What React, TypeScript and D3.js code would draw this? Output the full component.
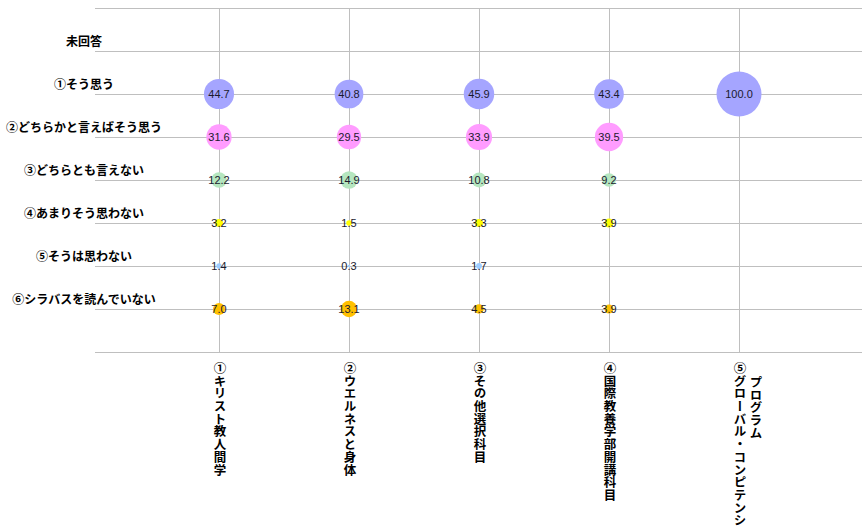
import * as d3 from "d3";

const W = 862;
const H = 527;

// rows (top -> bottom), with the empty "未回答" row first
const responses = [
  "未回答",
  "①そう思う",
  "②どちらかと言えばそう思う",
  "③どちらとも言えない",
  "④あまりそう思わない",
  "⑤そうは思わない",
  "⑥シラバスを読んでいない",
];

// columns; a label can wrap onto a second vertical line
const courses = [
  ["①キリスト教人間学"],
  ["②ウエルネスと身体"],
  ["③その他選択科目"],
  ["④国際教養学部開講科目"],
  ["⑤グローバル・コンピテンシー・", "プログラム"],
];

// percentages per response row, one value per course (null = no bubble)
const soOmou = [44.7, 40.8, 45.9, 43.4, 100.0];
const dochiraka = [31.6, 29.5, 33.9, 39.5, null];
const dochiramo = [12.2, 14.9, 10.8, 9.2, null];
const amari = [3.2, 1.5, 3.3, 3.9, null];
const omowanai = [1.4, 0.3, 1.7, null, null];
const yondeinai = [7.0, 13.1, 4.5, 3.9, null];

const series = [
  { row: 1, values: soOmou, color: "#a5a5ff" },
  { row: 2, values: dochiraka, color: "#ff9cff" },
  { row: 3, values: dochiramo, color: "#b5e6bf" },
  { row: 4, values: amari, color: "#ffff00" },
  { row: 5, values: omowanai, color: "#9fcdff" },
  { row: 6, values: yondeinai, color: "#ffc000" },
];

const PLOT_LEFT = 95;
const PLOT_TOP = 8;
const PLOT_BOTTOM = 352;

const x = d3.scaleLinear().domain([0, 6]).range([89, 869]);
const y = d3.scaleLinear().domain([8, 0]).range([PLOT_TOP, PLOT_BOTTOM]);
const r = d3.scaleSqrt().domain([0, 100]).range([0, 22.5]);

const jp = "'Noto Sans CJK JP', 'Noto Sans', sans-serif";
const num = "'Liberation Sans', Arial, sans-serif";

export default function App() {
  const gridY = d3.range(0, 9);
  return (
    <svg
      width={W}
      height={H}
      viewBox={`0 0 ${W} ${H}`}
      style={{ position: "absolute", left: 0, top: 0, background: "#fff" }}
    >
      {/* horizontal gridlines */}
      {gridY.map((v) => (
        <line
          key={"h" + v}
          x1={PLOT_LEFT}
          x2={W}
          y1={Math.round(y(v)) + 0.5}
          y2={Math.round(y(v)) + 0.5}
          stroke="#bfbfbf"
          strokeWidth={1}
        />
      ))}
      {/* vertical gridlines */}
      {courses.map((_, i) => (
        <line
          key={"v" + i}
          x1={Math.round(x(i + 1)) + 0.5}
          x2={Math.round(x(i + 1)) + 0.5}
          y1={PLOT_TOP}
          y2={PLOT_BOTTOM}
          stroke="#bfbfbf"
          strokeWidth={1}
        />
      ))}

      {/* row labels */}
      {responses.map((t, i) => (
        <text
          key={"r" + i}
          x={84}
          y={y(7 - i) - 5}
          textAnchor="middle"
          fontFamily={jp}
          fontWeight="bold"
          fontSize={12}
          fill="#000"
        >
          {t}
        </text>
      ))}

      {/* column labels, vertical writing */}
      {courses.map((lines, i) =>
        lines.map((t, j) => (
          <text
            key={"c" + i + "-" + j}
            x={x(i + 1) + 1 + j * 16}
            y={362 + j * 14}
            fontFamily={jp}
            fontWeight="bold"
            fontSize={12.5}
            letterSpacing={0.2}
            fill="#000"
            style={{ writingMode: "vertical-rl", textOrientation: "mixed" } as any}
          >
            {t}
          </text>
        ))
      )}

      {/* bubbles */}
      {series.map((s) =>
        s.values.map((v, i) =>
          v == null ? null : (
            <circle
              key={"b" + s.row + "-" + i}
              cx={x(i + 1)}
              cy={y(7 - s.row)}
              r={r(v)}
              fill={s.color}
            />
          )
        )
      )}
      {/* data labels */}
      {series.map((s) =>
        s.values.map((v, i) =>
          v == null ? null : (
            <text
              key={"t" + s.row + "-" + i}
              x={x(i + 1)}
              y={y(7 - s.row)}
              dy="0.35em"
              textAnchor="middle"
              fontFamily={num}
              fontSize={11}
              fill="#1a1a2e"
            >
              {v.toFixed(1)}
            </text>
          )
        )
      )}
    </svg>
  );
}
